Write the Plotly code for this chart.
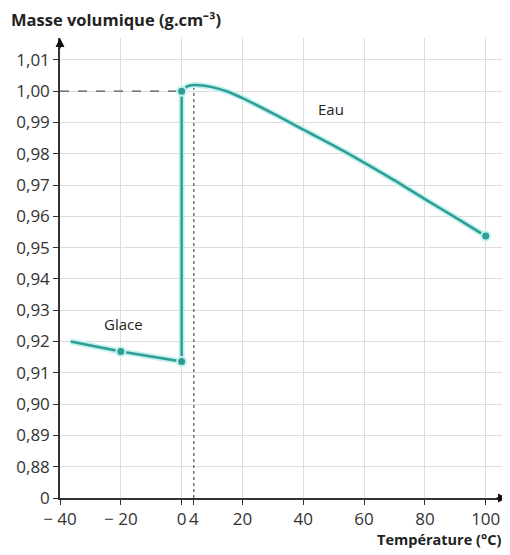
import plotly.graph_objects as go

# ---- data ----
ice_T = [-36.5, -20, 0]
ice_rho = [0.9200, 0.9168, 0.9136]

melt_T = [0, 0]
melt_rho = [0.9136, 1.000]

water_T = [0, 2, 4, 6, 10, 15, 20, 30, 40, 50, 60, 70, 80, 90, 100]
water_rho = [1.0000, 1.0016, 1.0020, 1.0019, 1.0013, 0.9999, 0.9978, 0.9929,
             0.9877, 0.9826, 0.9772, 0.9715, 0.9655, 0.9597, 0.9537]

marker_T = [-20, 0, 0, 100]
marker_rho = [0.9168, 0.9136, 1.000, 0.9537]

ref_rho = 1.00          # horizontal dashed reference
t_max_density = 4       # vertical dotted reference
rho_max = 1.0020

x_tickvals = [-40, -20, 0, 4, 20, 40, 60, 80, 100]
x_ticktext = ["− 40", "− 20", "0", "4", "20", "40", "60", "80", "100"]
y_tickvals = [0.87, 0.88, 0.89, 0.90, 0.91, 0.92, 0.93, 0.94, 0.95, 0.96, 0.97, 0.98, 0.99, 1.00, 1.01]
y_ticktext = ["0", "0,88", "0,89", "0,90", "0,91", "0,92", "0,93", "0,94", "0,95",
              "0,96", "0,97", "0,98", "0,99", "1,00", "1,01"]

X_RANGE = [-40, 107]
Y_RANGE = [0.87, 1.017]

TEAL = "#2e9e94"
GLOW = "#c4f1ee"
DARK = "#333333"
FONT = "Open Sans, Liberation Sans, sans-serif"

W, H = 502, 547   # page body has an 8px margin

fig = go.Figure()

# invisible trace activating the grid axis (drawn first, below data)
fig.add_trace(go.Scatter(x=[None], y=[None], xaxis="x2", showlegend=False, hoverinfo="skip"))

# reference lines
fig.add_trace(go.Scatter(x=[X_RANGE[0], 0], y=[ref_rho, ref_rho], mode="lines",
                         line=dict(color="#555555", width=1.2, dash="dash"),
                         hoverinfo="skip", showlegend=False))
fig.add_trace(go.Scatter(x=[t_max_density, t_max_density], y=[Y_RANGE[0], rho_max], mode="lines",
                         line=dict(color="#555555", width=1.2, dash="dot"),
                         hoverinfo="skip", showlegend=False))

segments = [(ice_T, ice_rho, "linear"), (melt_T, melt_rho, "linear"),
            (water_T, water_rho, "spline")]
for xs, ys, shp in segments:
    fig.add_trace(go.Scatter(x=xs, y=ys, mode="lines", line=dict(color=GLOW, width=6, shape=shp),
                             hoverinfo="skip", showlegend=False))
for xs, ys, shp in segments:
    fig.add_trace(go.Scatter(x=xs, y=ys, mode="lines", line=dict(color=TEAL, width=2.5, shape=shp),
                             showlegend=False))

fig.add_trace(go.Scatter(x=marker_T, y=marker_rho, mode="markers",
                         marker=dict(color=TEAL, size=9, line=dict(color=GLOW, width=2)),
                         showlegend=False))

fig.update_layout(
    width=W, height=H,
    margin=dict(l=52, r=3, t=30, b=57),
    paper_bgcolor="white", plot_bgcolor="white",
    font=dict(family=FONT, size=17, color=DARK),
    title=dict(text="<b>Masse volumique (g.cm⁻³)</b>", xref="container", yref="container",
               x=3 / W, xanchor="left", y=1 - 12 / H, yanchor="middle",
               font=dict(family=FONT, size=16.5, color="#222222")),
    xaxis=dict(range=X_RANGE, tickvals=x_tickvals, ticktext=x_ticktext, showgrid=False,
               zeroline=False, showline=True, linecolor=DARK, linewidth=1.5,
               ticks="outside", ticklen=5, tickcolor=DARK, tickfont=dict(size=17)),
    xaxis2=dict(range=X_RANGE, overlaying="x", dtick=20, tick0=0, showgrid=True,
                gridcolor="#dddddd", gridwidth=1, showticklabels=False, zeroline=False,
                showline=False),
    yaxis=dict(range=Y_RANGE, tickvals=y_tickvals, ticktext=y_ticktext, showgrid=True,
               gridcolor="#dddddd", gridwidth=1, zeroline=False, showline=True,
               linecolor=DARK, linewidth=1.5, ticks="outside", ticklen=5, tickcolor=DARK,
               tickfont=dict(size=17)),
    annotations=[
        dict(text="Glace", x=-19, y=0.9255, xref="x", yref="y", showarrow=False,
             font=dict(size=15, color="#222222")),
        dict(text="Eau", x=49, y=0.9942, xref="x", yref="y", showarrow=False,
             font=dict(size=15, color="#222222")),
        dict(text="<b>Température (°C)</b>", x=0.99, y=-0.091, xref="paper", yref="paper",
             xanchor="right", yanchor="middle", showarrow=False,
             font=dict(size=14.5, color="#222222")),
        # axis arrows
        dict(x=X_RANGE[1], y=Y_RANGE[0], xref="x", yref="y", ax=-12, ay=0, showarrow=True,
             arrowhead=2, arrowsize=1.2, arrowwidth=1.5, arrowcolor="#111111", text=""),
        dict(x=X_RANGE[0], y=Y_RANGE[1], xref="x", yref="y", ax=0, ay=12, showarrow=True,
             arrowhead=2, arrowsize=1.2, arrowwidth=1.5, arrowcolor="#111111", text=""),
    ],
)

fig.write_html("out.html")
